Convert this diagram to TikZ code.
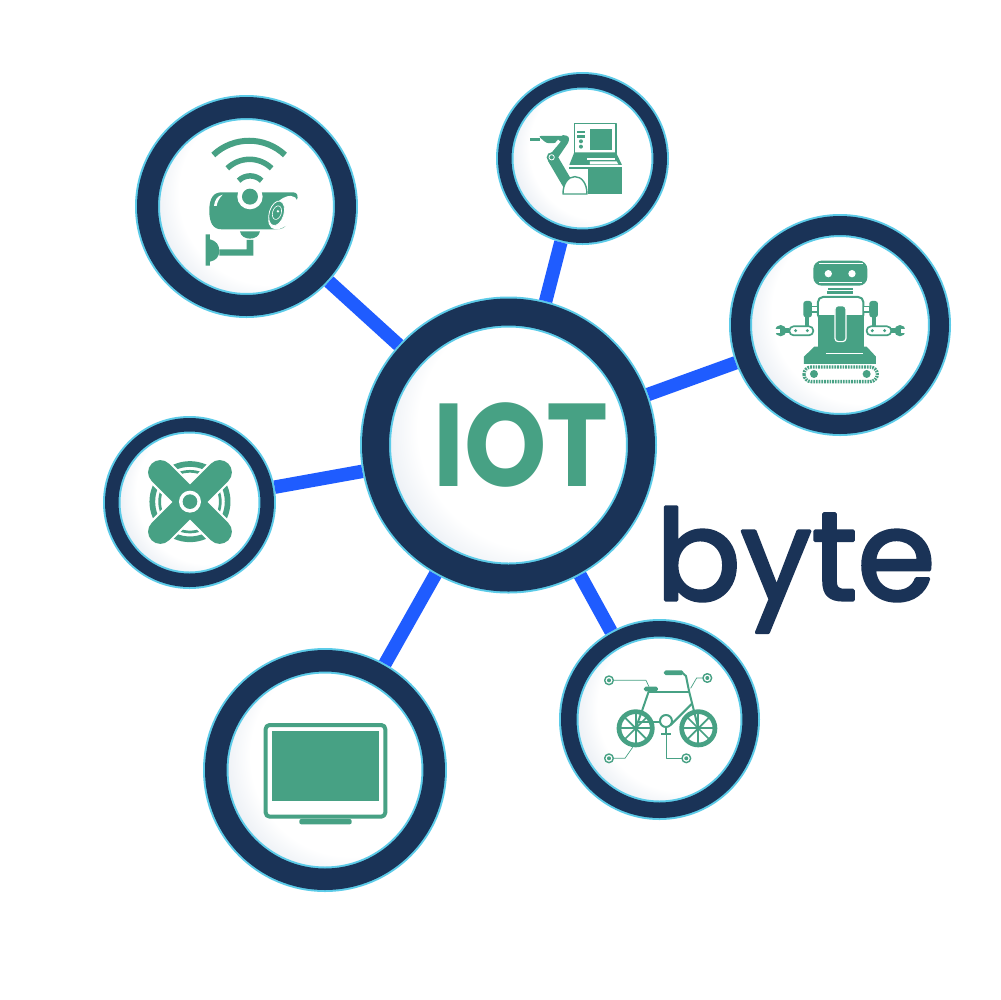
\documentclass[tikz,border=0pt]{standalone}
\usepackage{fontspec}
\usetikzlibrary{calc}
\newfontfamily\logofont{Poppins}
\newfontfamily\bytefont[FakeBold=2.5]{Poppins}
\definecolor{ringnavy}{HTML}{1A3357}
\definecolor{ringedge}{HTML}{5CCBE8}
\definecolor{linkblue}{HTML}{1F5CFF}
\definecolor{icongreen}{HTML}{47A184}
\definecolor{discgrey}{HTML}{B4C4D8}
\pgfdeclareradialshading{discglow}{\pgfpoint{11bp}{6bp}}{%
  color(0bp)=(white); color(23bp)=(white); color(30bp)=(discgrey!35); color(37bp)=(discgrey); color(50bp)=(discgrey)}
\tikzset{
  disc/.style 2 args={circle, shade, shading=discglow, draw=ringedge, line width=0.2mm,
    double=ringnavy, double distance=(#2-4)*0.1mm, minimum size=#1*0.1mm, inner sep=0pt, outer sep=#2*0.05mm},
  link/.style={draw=linkblue, line width=1.35mm},
  zoomed/.style 2 args={shift={(#1,#2)}, x=0.03333mm, y=-0.03333mm},
  wire/.style={draw=icongreen, line cap=butt}
}
\begin{document}
\begin{tikzpicture}[x=0.1mm, y=-0.1mm, line join=round]
\useasboundingbox[fill=white] (0,0) rectangle (1000,1000);

\node[disc={266}{31}] (hub) at (508.5,445) {};
\node[disc={198}{25}] (camera) at (246.5,206.5) {};
\node[disc={155.5}{17.5}] (machine) at (582.5,158.5) {};
\node[disc={199}{23}] (robot) at (840,325) {};
\node[disc={155.5}{17.5}] (fan) at (189.5,502.5) {};
\node[disc={218.5}{25.5}] (screen) at (325,770) {};
\node[disc={181.5}{19.5}] (bike) at (659.5,719.5) {};

\node[font=\logofont\bfseries\fontsize{33.5}{36}\selectfont, text=icongreen, inner sep=0pt, transform shape, xscale=0.89] (iot) at (521,444.5) {IOT};
\node[font=\bytefont\fontsize{35.8}{40}\selectfont, text=ringnavy, inner sep=0pt, anchor=base west] (byte) at (655,600) {byte};

\draw[link] (hub) -- (camera);
\draw[link] (hub) -- (machine);
\draw[link] (hub) -- (robot);
\draw[link] (hub) -- (fan);
\draw[link] (hub) -- (screen);
\draw[link] (hub) -- (bike);

% camera
\begin{scope}[zoomed={130}{90}]
\draw[wire, line width=0.6mm] (250,195) .. controls (310,138) and (405,138) .. (465,195);
\draw[wire, line width=0.55mm] (292,235) .. controls (330,199) and (388,199) .. (425,235);
\draw[wire, line width=0.55mm] (326,272) .. controls (345,253) and (376,253) .. (395,272);
\fill[icongreen] (275,307) -- (490,307) .. controls (503,307) and (506,320) .. (500,332)
  -- (472,400) .. controls (465,414) and (455,418) .. (440,418) -- (275,418)
  .. controls (250,418) and (238,400) .. (238,362) .. controls (238,325) and (250,307) .. (275,307) -- cycle;
\fill[white] (360,320) circle (38);
\fill[icongreen] (360,320) circle (24);
\fill[white, rotate around={52:(460,368)}] (460,368) ellipse [x radius=58, y radius=34];
\draw[white, fill=icongreen, line width=0.08mm, rotate around={-17:(440,370)}] (440,370) ellipse [x radius=22, y radius=38];
\draw[white, line width=0.06mm, rotate around={-17:(441,368)}] (441,368) ellipse [x radius=13, y radius=21];
\fill[white] (444,364) circle (4);
\fill[white] (252,348) .. controls (254,330) and (262,318) .. (278,314) .. controls (268,325) and (262,335) .. (260,348) -- cycle;
\fill[icongreen] (330,424) -- (390,424) .. controls (388,438) and (375,446) .. (360,446) .. controls (345,446) and (332,438) .. (330,424) -- cycle;
\fill[icongreen] (350,450) -- (370,450) -- (370,497) -- (268,497) -- (268,478) -- (350,478) -- cycle;
\fill[icongreen] (227,433) -- (240,433) -- (240,448) .. controls (258,452) and (268,465) .. (268,482)
  .. controls (268,500) and (258,512) .. (240,515) -- (240,527) -- (227,527) -- cycle;
\end{scope}

% machine
\begin{scope}[zoomed={490}{70}]
\draw[wire, line width=0.14mm] (253,161) rectangle (378,250);
\fill[icongreen] (300,178) rectangle (365,240);
\fill[icongreen] (262,182) rectangle (285,190);
\fill[icongreen] (262,195) rectangle (285,203);
\fill[icongreen] (273,214) circle (6);
\fill[icongreen] (273,230) circle (6);
\fill[icongreen] (253,247) -- (378,247) -- (396,285) -- (238,285) -- cycle;
\fill[white] (300,274) -- (380,274) -- (385,283) -- (300,283) -- cycle;
\fill[white] (290,265) rectangle (375,269);
\fill[icongreen] (238,290) rectangle (397,296);
\fill[icongreen] (295,296) rectangle (397,373);
\fill[icongreen] (120,204) rectangle (150,213);
\fill[icongreen, rounded corners=0.25mm] (145,198) -- (237,198) -- (237,217) -- (170,220) -- cycle;
\draw[wire, line width=1mm, line cap=round] (222,210) -- (188,260);
\draw[white, line width=0.33mm] (176,250) -- (208,212);
\draw[wire, line width=1.07mm] (188,265) -- (235,345);
\fill[icongreen] (185,262) circle (15);
\draw[white, line width=0.08mm] (185,262) circle (8);
\draw[icongreen, fill=white, line width=0.14mm] (219,372) -- (291,372) .. controls (291,340) and (275,320) .. (255,320) .. controls (235,320) and (219,340) .. (219,372) -- cycle;
\end{scope}

% robot
\begin{scope}[zoomed={750}{240}]
\fill[icongreen, rounded corners=0.83mm] (190,62) rectangle (352,137);
\draw[white, line width=0.1mm] (207,71) -- (338,71);
\draw[white, line width=0.1mm] (207,127) -- (335,127);
\fill[white] (235,101) circle (11);
\fill[white] (306,101) circle (11);
\fill[icongreen] (235,143) rectangle (308,150);
\fill[icongreen] (232,153) rectangle (310,163);
\draw[icongreen, fill=white, line width=0.2mm, rounded corners=0.5mm] (204,171) rectangle (340,240);
\fill[icongreen] (203,225) rectangle (341,322);
\draw[white, fill=icongreen, line width=0.12mm, rounded corners=0.33mm] (255,197) rectangle (288,305);
\draw[icongreen, fill=white, line width=0.15mm] (185,200) rectangle (204,216);
\draw[icongreen, fill=white, line width=0.15mm] (340,200) rectangle (358,216);
\fill[icongreen, rounded corners=0.27mm] (160,183) rectangle (186,232);
\fill[icongreen, rounded corners=0.27mm] (358,183) rectangle (384,232);
\fill[icongreen] (165,232) rectangle (176,260);
\fill[icongreen] (367,232) rectangle (378,260);
\draw[icongreen, fill=white, line width=0.17mm, rounded corners=0.43mm] (118,259) rectangle (190,286);
\draw[icongreen, fill=white, line width=0.17mm, rounded corners=0.43mm] (350,259) rectangle (424,286);
\fill[icongreen] (137,272) circle (5);
\fill[icongreen] (172,272) circle (5);
\fill[icongreen] (367,272) circle (5);
\fill[icongreen] (404,272) circle (5);
\fill[icongreen] (100,265) rectangle (118,280);
\fill[icongreen] (424,265) rectangle (442,280);
\fill[icongreen] (92,272) circle (17);
\fill[icongreen] (450,272) circle (17);
\fill[white] (72,266) rectangle (90,278);
\fill[white] (452,266) rectangle (470,278);
\fill[icongreen] (193,320) -- (350,320) -- (378,350) -- (378,372) -- (162,372) -- (162,350) -- cycle;
\draw[white, line width=0.1mm] (228,340) -- (340,340);
\draw[icongreen, line width=0.33mm, dash pattern=on 0.17mm off 0.1mm, rounded corners=0.73mm] (162,381) rectangle (382,425);
\fill[icongreen] (192,402) circle (12);
\fill[icongreen] (350,402) circle (12);
\end{scope}

% fan
\begin{scope}[zoomed={100}{410}]
\draw[icongreen, line width=0.57mm] (270,275) circle (113);
\draw[icongreen, line width=0.27mm] (270,275) circle (91);
\draw[white, line width=2.9mm] (181,187) -- (359,365);
\draw[white, line width=2.9mm] (359,187) -- (181,365);
\draw[wire, line width=2.45mm, line cap=round] (181,187) -- (359,365);
\draw[wire, line width=2.45mm, line cap=round] (359,187) -- (181,365);
\fill[white] (270,275) circle (33);
\fill[icongreen] (270,275) circle (22);
\end{scope}

% monitor
\begin{scope}[zoomed={255}{715}]
\draw[icongreen, fill=white, line width=0.4mm, rounded corners=0.4mm] (32,30) rectangle (391,305);
\fill[icongreen] (51,48) rectangle (373,259);
\fill[icongreen, rounded corners=0.2mm] (133,328) -- (133,312) -- (290,312) -- (290,328) -- cycle;
\end{scope}

% bicycle
\begin{scope}[zoomed={580}{640}]
\foreach \wx in {167,355} {
  \draw[icongreen, line width=0.47mm] (\wx,265) circle (50);
  \foreach \sa in {0,45,90,135}
    \draw[icongreen, line width=0.17mm] ($(\wx,265)+(\sa:50)$) -- ($(\wx,265)+(\sa+180:50)$);
}
\draw[icongreen, line width=0.2mm] (187,210) -- (167,265);
\draw[icongreen, line width=0.2mm] (206,155) -- (187,210);
\draw[icongreen, line width=0.2mm] (205,157) -- (328,157);
\draw[icongreen, line width=0.2mm] (335,192) -- (272,255);
\draw[icongreen, line width=0.2mm] (167,245) -- (240,245);
\draw[icongreen, line width=0.2mm] (355,265) -- (328,157) -- (318,108) -- (305,97);
\fill[icongreen, rounded corners=0.17mm] (252,91) rectangle (310,105);
\fill[icongreen, rounded corners=0.17mm] (192,140) rectangle (234,154);
\draw[icongreen, line width=0.2mm] (258,243) circle (18);
\draw[icongreen, line width=0.2mm] (258,261) -- (258,282);
\fill[icongreen] (244,279) rectangle (273,285);
\draw[wire, line width=0.07mm] (87,121) -- (198,121) -- (207,140);
\draw[wire, line width=0.07mm] (382,114) -- (350,114) -- (332,145);
\draw[wire, line width=0.07mm] (87,355) -- (135,355) -- (158,322);
\draw[wire, line width=0.07mm] (319,355) -- (260,355) -- (260,285);
\foreach \dx/\dy in {87/121,382/114,87/355,319/355} {
  \draw[icongreen, fill=white, line width=0.14mm] (\dx,\dy) circle (13);
  \fill[icongreen] (\dx,\dy) circle (6);
}
\end{scope}
\end{tikzpicture}
\end{document}
